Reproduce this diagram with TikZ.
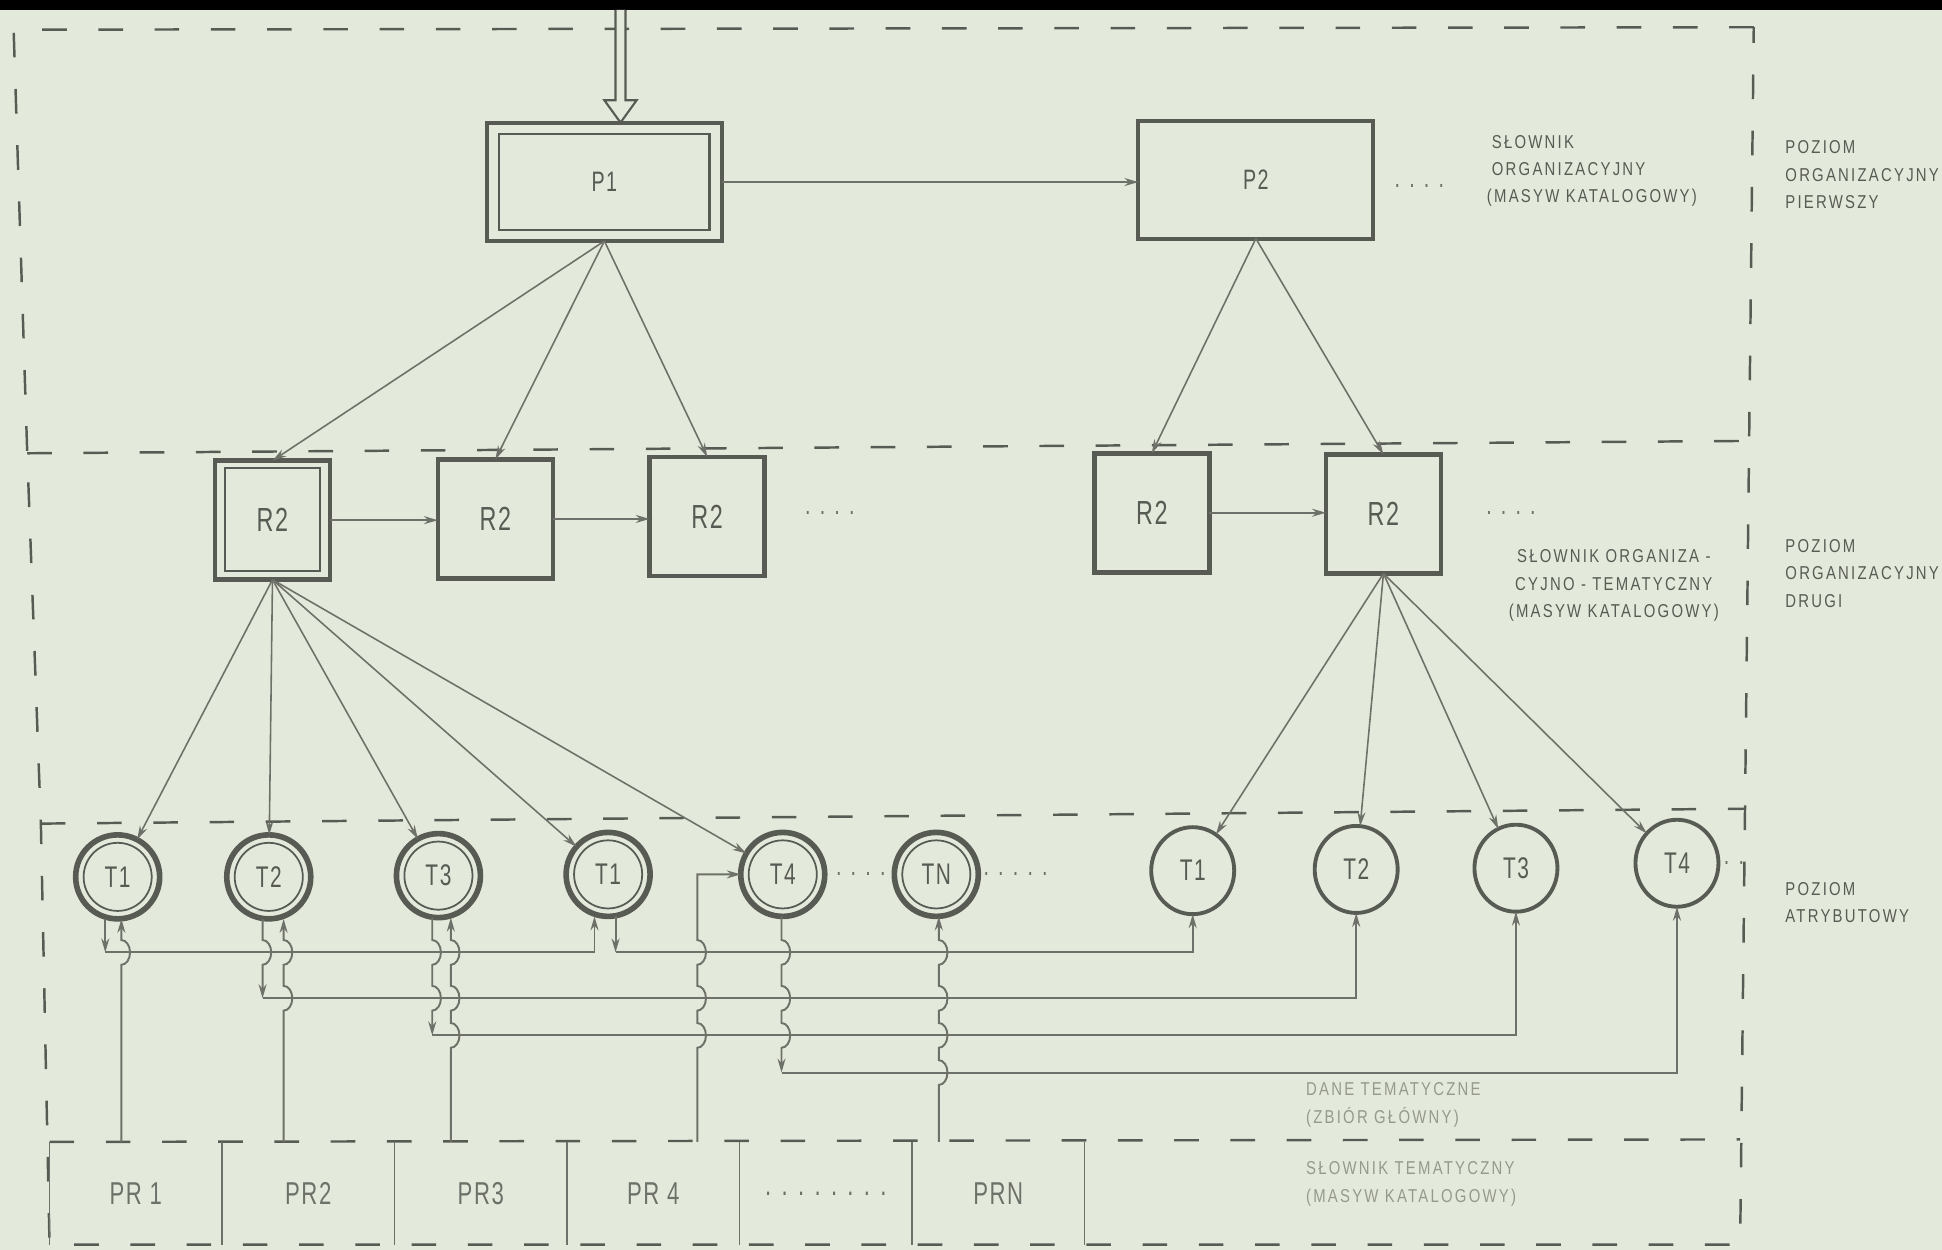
\documentclass[tikz,border=0pt]{standalone}
\usepackage{fontspec}
\usetikzlibrary{arrows.meta,calc,shapes.geometric}
\newfontfamily\labfont[FakeStretch=0.7,LetterSpace=5]{Liberation Sans}
\newfontfamily\notefont[FakeStretch=0.8,LetterSpace=12]{Liberation Sans}
\definecolor{paper}{RGB}{228,234,219}
\definecolor{ink}{RGB}{88,91,84}
\definecolor{pen}{RGB}{110,113,105}
\definecolor{faint}{RGB}{150,153,142}
\tikzset{
  frame/.style={ink,line width=0.7pt,dash pattern=on 7pt off 9pt},
  pbox/.style={draw=ink,line width=1.2pt,minimum width=23.5mm,minimum height=11.8mm,
    inner sep=0pt,outer sep=0pt,text=ink,font=\labfont\fontsize{8}{9}\selectfont},
  rbox/.style={pbox,line width=1.3pt,minimum width=11.5mm,minimum height=11.9mm,
    font=\labfont\fontsize{9.5}{10}\selectfont},
  attrd/.style={circle,draw=ink,line width=1.6pt,minimum size=8.4mm,inner sep=0pt,
    outer sep=0pt,text=ink,font=\labfont\fontsize{8.5}{9}\selectfont},
  attr/.style={ellipse,draw=ink,line width=1.1pt,minimum width=8.3mm,minimum height=8.7mm,
    inner sep=0pt,outer sep=0pt,text=ink,font=\labfont\fontsize{8.5}{9}\selectfont},
  cell/.style={minimum width=17.25mm,minimum height=10.3mm,inner sep=0pt,outer sep=0pt,
    text=pen,font=\labfont\fontsize{9}{10}\selectfont},
  link/.style={pen,line width=0.45pt,->},
  wire/.style={pen,line width=0.55pt},
  rule/.style={pen,line width=0.45pt},
  leader/.style={text=pen,inner sep=0pt,font=\labfont\fontsize{8}{9}\selectfont},
  note/.style={text=ink,inner sep=0pt,align=left,font=\notefont\fontsize{5.3}{7.8}\selectfont},
}
\begin{document}
\begin{tikzpicture}[x=0.12385mm,y=-0.12385mm,>={Stealth[length=1.4mm,width=0.8mm]}]
\useasboundingbox (0,0) rectangle (1568,1009);
\fill[paper] (0,0) rectangle (1568,1009);
\fill[black] (0,0) rectangle (1568,8);
% level frames
\draw[frame] (1416,22) -- (11,24) -- (22,366) -- (33,665) -- (40,1005) -- (1405,1005) -- cycle;
\draw[frame] (22,366) -- (1413,356);
\draw[frame] (33,665) -- (1408,653);
\draw[frame] (40,922) -- (1405,920);
% first organisational level
\node[pbox] (p1) at (488,147) {P1};
\node[pbox,line width=1.1pt] (p2) at (1014,145) {P2};
\draw[ink,line width=0.6pt] ($(p1.north west)+(10,9)$) rectangle ($(p1.south east)+(-10,-9)$);
\draw[ink,line width=0.6pt,fill=paper] (497,8) -- (497,81) -- (488,81) -- (501,99)
  -- (514,81) -- (505,81) -- (505,8);
\draw[link] (p1.east) -- (p1.east -| p2.west);
\node[leader] (pdots) at (1146,150) {. . . .};
% second organisational level
\foreach \n/\x/\y in {r2a/220/420, r2b/400/419, r2c/571/417, r2d/930/414, r2e/1117/415}
  {\node[rbox] (\n) at (\x,\y) {R2};}
\draw[ink,line width=0.6pt] ($(r2a.north west)+(8,6)$) rectangle ($(r2a.south east)+(-8,-7)$);
\foreach \n in {r2a,r2b,r2c} {\draw[link] (p1.south) -- (\n.north);}
\foreach \n in {r2d,r2e} {\draw[link] (p2.south) -- (\n.north);}
\draw[link] (r2a.east) -- (r2a.east -| r2b.west);
\draw[link] (r2b.east) -- (r2b.east -| r2c.west);
\draw[link] (r2d.east) -- (r2d.east -| r2e.west);
\node[leader] (rdots1) at (670,414) {. . . .};
\node[leader] (rdots2) at (1220,414) {. . . .};
% attribute level
\foreach \n/\x/\y/\t in {t1a/95/708/T1, t2a/217/708/T2, t3a/354/707/T3, t1b/491/706/T1,
    t4a/632/706/T4, tn/756/706/TN}
  {\node[attrd] (\n) at (\x,\y) {\t};
   \draw[ink,line width=0.5pt] (\n.center) circle (27.5);}
\foreach \n/\x/\y/\t in {t1c/963/703/T1, t2c/1095/702/T2, t3c/1224/701/T3, t4c/1354/697/T4}
  {\node[attr] (\n) at (\x,\y) {\t};}
\foreach \n in {t1a,t2a,t3a,t1b,t4a} {\draw[link] (r2a.south) -- (\n);}
\foreach \n in {t1c,t2c,t3c,t4c} {\draw[link] (r2e.south) -- (\n);}
\node[leader] (tdots1) at (695,706) {. . . .};
\node[leader] (tdots2) at (820,706) {. . . . .};
\node[leader] (tdots3) at (1400,697) {. .};
% wiring between attributes; hops bulge to the right
\coordinate (c1) at (85,769);
\coordinate (c2) at (212,806);
\coordinate (c3) at (349,836);
\coordinate (c4) at (631,866);
\coordinate (b1) at (497,769);
\draw[wire,->] (c1 |- t1a.south) -- (c1);
\draw[wire,->] (b1 |- t1b.south) -- (b1);
\foreach \c/\t/\hops in {c2/t2a/{769}, c3/t3a/{769,806}, c4/t4a/{769,806,836}}
  {\draw[wire,->] (\c |- \t.south) \foreach \yb in \hops
     {-- ($(\c |- 0,\yb)+(0,-10)$) arc[start angle=-90,end angle=90,x radius=7,y radius=10]} -- (\c);}
\draw[wire,->] (c1) -- (480,769) -- (480,0 |- t1b.south);
\draw[wire,->] (b1) -- (t1c.south |- b1) -- (t1c.south);
\draw[wire,->] (c2) -- (t2c.south |- c2) -- (t2c.south);
\draw[wire,->] (c3) -- (t3c.south |- c3) -- (t3c.south);
\draw[wire,->] (c4) -- (t4c.south |- c4) -- (t4c.south);
% thematic dictionary row
\foreach \n/\x/\lab in {pr1/109.6/PR 1, pr2/248.9/PR2, pr3/388.2/PR3, pr4/527.5/PR 4,
    prd/666.8/{. . . . . . . .}, prn/806.0/PRN}
  {\node[cell] (\n) at (\x,963.5) {\lab};
   \draw[rule] (\n.north east) -- (\n.south east);}
\draw[rule] (pr1.north west) -- (pr1.south west);
% feeds from the dictionary up into the attributes
\foreach \x/\t/\c/\hops in {98/t1a/pr1/{769}, 229/t2a/pr2/{769,806},
    364/t3a/pr3/{769,806,836}, 758/tn/prn/{769,806,836,866}}
  {\draw[wire,<-] (\x,0 |- \t.south) \foreach \yb in \hops
     {-- (\x,\yb-10) arc[start angle=-90,end angle=90,x radius=7,y radius=10]} -- (\x,0 |- \c.north);}
\draw[wire,<-] (t4a.west) -- (563,0 |- t4a.west) \foreach \yb in {769,806,836}
  {-- (563,\yb-10) arc[start angle=-90,end angle=90,x radius=7,y radius=10]} -- (563,0 |- pr4.north);
% notes
\node[note,anchor=west] (slown1) at (1200,138)
  {\hphantom{(}SŁOWNIK\\\hphantom{(}ORGANIZACYJNY\\(MASYW KATALOGOWY)};
\node[note,anchor=west] (poz1) at (1441,141) {POZIOM\\ORGANIZACYJNY\\PIERWSZY};
\node[note,align=center] (slown2) at (1303,473)
  {SŁOWNIK ORGANIZA -\\CYJNO - TEMATYCZNY\\(MASYW KATALOGOWY)};
\node[note,anchor=west] (poz2) at (1441,463) {POZIOM\\ORGANIZACYJNY\\DRUGI};
\node[note,anchor=west] (poz3) at (1441,729) {POZIOM\\ATRYBUTOWY};
\node[note,anchor=west,text=faint] (dane) at (1054,892) {DANE TEMATYCZNE\\(ZBIÓR GŁÓWNY)};
\node[note,anchor=west,text=faint] (slown3) at (1054,956) {SŁOWNIK TEMATYCZNY\\(MASYW KATALOGOWY)};
\end{tikzpicture}
\end{document}
